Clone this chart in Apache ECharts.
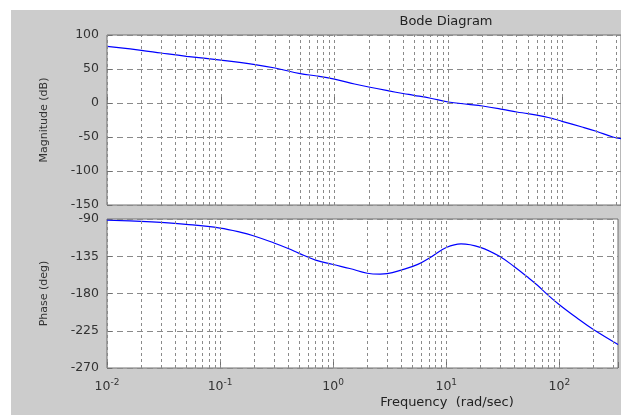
<!DOCTYPE html>
<html>
<head>
<meta charset="utf-8">
<script src="https://cdn.jsdelivr.net/npm/echarts@6/dist/echarts.min.js"></script>
<style>
html, body { margin: 0; padding: 0; background: #fff; }
#figure { position: absolute; left: 11px; top: 10px; width: 610px; height: 405px; background: #cccccc; }
#chart { position: absolute; left: 0; top: 0; width: 621px; height: 415px; }
</style>
</head>
<body>
<div id="figure"></div>
<div id="chart"></div>
<script>
// magnitude curve (rad/sec, dB)
var magFreq = [0.01, 0.02, 0.03, 0.05, 0.1, 0.2, 0.3, 0.5, 0.7, 1, 1.5, 2, 3, 4, 5, 7, 10, 15, 20, 30, 40, 50, 70, 85, 100, 150, 200, 280, 330];
var magDb = [83.4, 77.5, 73.5, 68.7, 63, 56.5, 51.5, 43.2, 39.7, 35, 28, 23.5, 17.8, 14, 11.3, 7, 1.5, -1.9, -4.4, -9.3, -13.2, -15.5, -20, -23.5, -27, -35.3, -41.6, -50, -52.5];

// phase curve (rad/sec, deg)
var phFreq = [0.01, 0.02, 0.03, 0.05, 0.1, 0.15, 0.2, 0.3, 0.4, 0.5, 0.7, 1, 1.4, 2, 2.6, 3, 4, 5.6, 7.4, 10, 13.5, 20, 30, 40, 52, 64, 78, 100, 143, 200, 330];
var phDeg = [-91.5, -92.8, -94, -96.4, -101, -105.8, -110.5, -119, -125.6, -131.5, -139.6, -145, -149.8, -155.5, -156.6, -156.1, -151.7, -144.8, -135.6, -124.5, -120, -124.2, -135.6, -147.7, -159.8, -170, -181, -193.5, -209.5, -223.5, -241.5];

var magTicks = { min: -150, max: 100, step: 50 };
var phTicks = { min: -270, max: -90, step: 45 };
var decades = [0.01, 0.1, 1, 10, 100];

// dotted vertical grid: 1..9 within each decade
var gridFreqs = [];
decades.forEach(function (d) {
    for (var k = 1; k <= 9; k++) {
        if (d * k <= 330) gridFreqs.push(+(d * k).toPrecision(3));
    }
});

var FONT = 'DejaVu Sans';
var TXT = '#333';
var GRID_C = '#8a8a8a';

function pairs(xs, ys) {
    return xs.map(function (x, i) { return [x, ys[i]]; });
}

function vLines() {
    return {
        silent: true,
        symbol: ['none', 'none'],
        label: { show: false },
        animation: false,
        lineStyle: { color: GRID_C, type: [3, 3], width: 1 },
        data: gridFreqs.map(function (f) { return { xAxis: f }; })
    };
}

function xAxisFor(idx, showLabels) {
    return {
        type: 'log',
        logBase: 10,
        gridIndex: idx,
        min: 0.01,
        max: 330,
        axisLine: { show: false },
        axisTick: { show: true, inside: true, length: 6, lineStyle: { color: '#707070' } },
        splitLine: { show: false },
        axisLabel: {
            show: showLabels,
            margin: 10,
            formatter: function (v) {
                var l = Math.log10(v);
                var e = Math.round(l);
                if (Math.abs(l - e) > 1e-6) return '';
                return '{b|10}{s|' + e + '}';
            },
            rich: {
                b: { fontFamily: FONT, fontSize: 12.5, color: TXT },
                s: { fontFamily: FONT, fontSize: 9, color: TXT, padding: [0, 0, 8, 0] }
            }
        }
    };
}

function yAxisFor(idx, t, name) {
    return {
        type: 'value',
        gridIndex: idx,
        min: t.min,
        max: t.max,
        interval: t.step,
        name: name,
        nameLocation: 'middle',
        nameRotate: 90,
        nameGap: 57,
        nameTextStyle: { fontFamily: FONT, fontSize: 11, color: TXT },
        axisLine: { show: false },
        axisTick: { show: true, inside: true, length: 5, lineStyle: { color: '#707070' } },
        axisLabel: { fontFamily: FONT, fontSize: 12.5, color: TXT, margin: 8 },
        splitLine: { show: true, lineStyle: { color: GRID_C, type: [6, 4], width: 1 } }
    };
}

var chart = echarts.init(document.getElementById('chart'));

var option = {
    animation: false,
    grid: [
        { left: 107, top: 35, right: 0, height: 170, show: true, backgroundColor: '#fff', borderColor: '#707070', borderWidth: 1 },
        { left: 107, top: 219, right: 0, height: 149, show: true, backgroundColor: '#fff', borderColor: '#707070', borderWidth: 1 }
    ],
    xAxis: [xAxisFor(0, false), xAxisFor(1, true)],
    yAxis: [yAxisFor(0, magTicks, 'Magnitude (dB)'), yAxisFor(1, phTicks, 'Phase (deg)')],
    graphic: [
        {
            type: 'text', x: 446, y: 22,
            style: { text: 'Bode Diagram', font: '13px "DejaVu Sans"', fill: '#222', align: 'center', verticalAlign: 'middle', textAlign: 'center', textVerticalAlign: 'middle' }
        },
        {
            type: 'text', x: 447, y: 403,
            style: { text: 'Frequency  (rad/sec)', font: '13px "DejaVu Sans"', fill: '#222', align: 'center', verticalAlign: 'middle', textAlign: 'center', textVerticalAlign: 'middle' }
        }
    ],
    series: [
        {
            name: 'Magnitude',
            type: 'line',
            xAxisIndex: 0,
            yAxisIndex: 0,
            data: pairs(magFreq, magDb),
            showSymbol: false,
            smooth: 0.4,
            lineStyle: { color: '#0000ff', width: 1.2 },
            markLine: vLines()
        },
        {
            name: 'Phase',
            type: 'line',
            xAxisIndex: 1,
            yAxisIndex: 1,
            data: pairs(phFreq, phDeg),
            showSymbol: false,
            smooth: 0.4,
            lineStyle: { color: '#0000ff', width: 1.2 },
            markLine: vLines()
        }
    ]
};

chart.setOption(option);
</script>
</body>
</html>
